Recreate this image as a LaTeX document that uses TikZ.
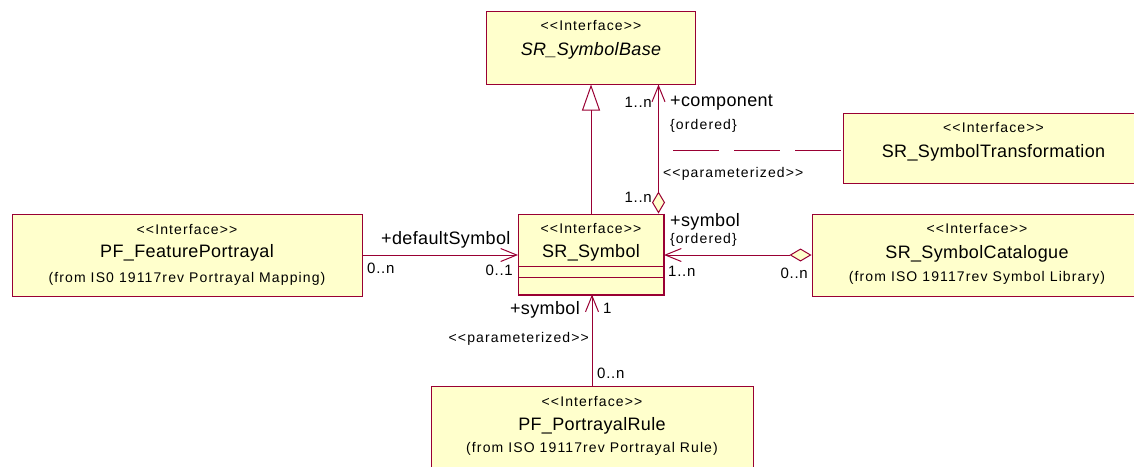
\documentclass[tikz,border=0pt]{standalone}
\usepackage{fontspec}
\setmainfont{Liberation Sans}
\newfontfamily\namefont[LetterSpace=2]{Liberation Sans}
\newfontfamily\smallfont[LetterSpace=8]{Liberation Sans}
\newfontfamily\multfont[LetterSpace=5]{Liberation Sans}
\usetikzlibrary{arrows.meta}
\definecolor{umlline}{HTML}{990033}
\definecolor{umlfill}{HTML}{FFFFCC}
\newcommand\stereo[1]{\textless\textless #1\textgreater\textgreater}
\tikzset{
  umlbox/.style={draw=umlline, fill=umlfill, line width=1pt, inner sep=0pt, rectangle},
  nm/.style={anchor=base, inner sep=0pt, font=\namefont\fontsize{18}{20}\selectfont},
  st/.style={anchor=base, inner sep=0pt, font=\smallfont\fontsize{14}{16}\selectfont},
  mu/.style={anchor=base, inner sep=0pt, font=\multfont\fontsize{15}{17}\selectfont},
  conn/.style={draw=umlline, line width=1pt},
  nav/.style={-{Straight Barb[length=16pt,width=13pt]}},
  aggnav/.style={{Diamond[length=22pt,width=13pt,fill=umlfill]}-{Straight Barb[length=16pt,width=13pt]}},
  gen/.style={-{Triangle[open,length=26pt,width=18pt]}},
  dep/.style={dash pattern=on 46pt off 15pt}
}
\begin{document}
\begin{tikzpicture}[x=1pt,y=-1pt]
\useasboundingbox (0,0) rectangle (1134,466);
\clip (0,0) rectangle (1134,466);

% boxes
\node[umlbox, minimum width=209pt, minimum height=73pt] (base) at (591,47.5) {};
\node[umlbox, minimum width=301pt, minimum height=70pt] (trans) at (993.5,148) {};
\node[umlbox, minimum width=350pt, minimum height=82pt] (feat) at (187,255) {};
\node[umlbox, minimum width=145pt, minimum height=80pt] (sym) at (591,254) {};
\node[umlbox, minimum width=330pt, minimum height=82pt] (cat) at (977,255) {};
\node[umlbox, minimum width=322pt, minimum height=90pt] (rule) at (592,431) {};

% SR_Symbol: heavier right and bottom edges, compartments
\draw[conn, line width=2pt] (sym.north east) -- (sym.south east) -- (sym.south west);
\draw[conn] ([yshift=-53pt]sym.north west) -- ([yshift=-53pt]sym.north east);
\draw[conn] ([yshift=-64pt]sym.north west) -- ([yshift=-64pt]sym.north east);

% box texts
\node[st] (baseSt) at (591,30) {\stereo{Interface}};
\node[nm] (baseNm) at (591,55) {\itshape SR\_SymbolBase};
\node[st] (transSt) at (993.5,132) {\stereo{Interface}};
\node[nm] (transNm) at (993.5,157.5) {SR\_SymbolTransformation};
\node[st] (featSt) at (187,234) {\stereo{Interface}};
\node[nm] (featNm) at (187,257) {PF\_FeaturePortrayal};
\node[st] (featFr) at (187,282) {(from IS0 19117rev Portrayal Mapping)};
\node[st] (symSt) at (591,233) {\stereo{Interface}};
\node[nm] (symNm) at (591,257) {SR\_Symbol};
\node[st] (catSt) at (977,233) {\stereo{Interface}};
\node[nm] (catNm) at (977,258) {SR\_SymbolCatalogue};
\node[st] (catFr) at (977,281) {(from ISO 19117rev Symbol Library)};
\node[st] (ruleSt) at (592,406) {\stereo{Interface}};
\node[nm] (ruleNm) at (592,430) {PF\_PortrayalRule};
\node[st] (ruleFr) at (592,452) {(from ISO 19117rev Portrayal Rule)};

% connectors
\draw[conn, gen] (sym.north) -- (base.south);
\draw[conn, aggnav] ([xshift=-5.5pt]sym.north east) -- ([xshift=-5.5pt]sym.north east |- base.south);
\coordinate (dashEnd) at (673,150);
\draw[conn, dep] (dashEnd) -- (dashEnd -| trans.west);
\draw[conn, nav] (feat.east) -- (feat.east -| sym.west);
\draw[conn, aggnav] (cat.west) -- (cat.west -| sym.east);
\draw[conn, nav] (rule.north) -- (rule.north |- sym.south);

% labels
\node[mu, anchor=base east] (m1) at (652,107) {1..n};
\node[nm, anchor=base west] (r1) at (670,106) {+component};
\node[st, anchor=base west] (o1) at (670,129) {\{ordered\}};
\node[st, anchor=base west] (p1) at (663,177) {\stereo{parameterized}};
\node[mu, anchor=base east] (m2) at (652,202) {1..n};
\node[nm, anchor=base west] (r2) at (670,226) {+symbol};
\node[st, anchor=base west] (o2) at (670,243) {\{ordered\}};
\node[mu, anchor=base west] (m3) at (668,276) {1..n};
\node[mu, anchor=base east] (m4) at (808,278) {0..n};
\node[nm, anchor=base west] (r3) at (381,244) {+defaultSymbol};
\node[mu, anchor=base west] (m5) at (367,273) {0..n};
\node[mu, anchor=base east] (m6) at (513,275) {0..1};
\node[nm, anchor=base east] (r4) at (580,314) {+symbol};
\node[mu, anchor=base west] (m7) at (603,313) {1};
\node[st, anchor=base east] (p2) at (589,342) {\stereo{parameterized}};
\node[mu, anchor=base west] (m8) at (597,378) {0..n};
\end{tikzpicture}
\end{document}
